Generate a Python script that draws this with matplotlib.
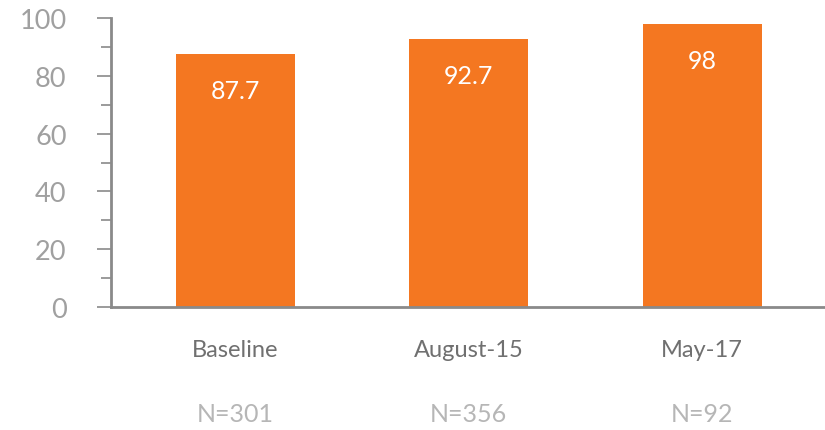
import matplotlib
matplotlib.use("Agg")
import matplotlib.pyplot as plt
from matplotlib.ticker import MultipleLocator
import matplotlib.transforms as mtransforms

categories = ["Baseline", "August-15", "May-17"]
values = [87.7, 92.7, 98]
value_labels = ["87.7", "92.7", "98"]
sample_sizes = ["N=301", "N=356", "N=92"]
y_ticks = [0, 20, 40, 60, 80, 100]
y_tick_labels = ["0", "20", "40", "60", "80", "100"]

ORANGE = "#F47721"
AXIS_GREY = "#8a8a8a"

plt.rcParams["font.family"] = ["Lato", "DejaVu Sans"]

fig = plt.figure(figsize=(8.25, 4.31), dpi=100)
ax = fig.add_axes([111 / 825, (431 - 308) / 431, 1 - 111 / 825, 289 / 431])

x = list(range(len(categories)))
ax.bar(x, values, width=0.51, color=ORANGE, zorder=2)

# value labels sit inside the bar, a little below its top
for xi, v, lab in zip(x, values, value_labels):
    ax.text(xi, v - 15.3, lab, ha="center", va="baseline", color="white", fontsize=18)

ax.set_xlim(-0.533, 2.527)
ax.set_ylim(0, 100)
ax.set_yticks(y_ticks)
ax.set_yticklabels(y_tick_labels)
ax.yaxis.set_minor_locator(MultipleLocator(10))
ax.tick_params(axis="y", which="major", length=10, width=1.2, color=AXIS_GREY,
               labelcolor="#a0a0a0", labelsize=19.5, pad=22)
ax.tick_params(axis="y", which="minor", length=7, width=1.2, color=AXIS_GREY)
ax.set_xticks([])

for side in ("top", "right"):
    ax.spines[side].set_visible(False)
for side in ("left", "bottom"):
    ax.spines[side].set_color(AXIS_GREY)
    ax.spines[side].set_linewidth(2)

trans = mtransforms.blended_transform_factory(ax.transData, fig.transFigure)
for xi, cat, n in zip(x, categories, sample_sizes):
    ax.text(xi, 1 - 357 / 431, cat, transform=trans, ha="center", va="baseline",
            color="#707070", fontsize=17)
    ax.text(xi, 1 - 422 / 431, n, transform=trans, ha="center", va="baseline",
            color="#b6b6b6", fontsize=18)

fig.savefig("out.png", dpi=100, facecolor="white")
